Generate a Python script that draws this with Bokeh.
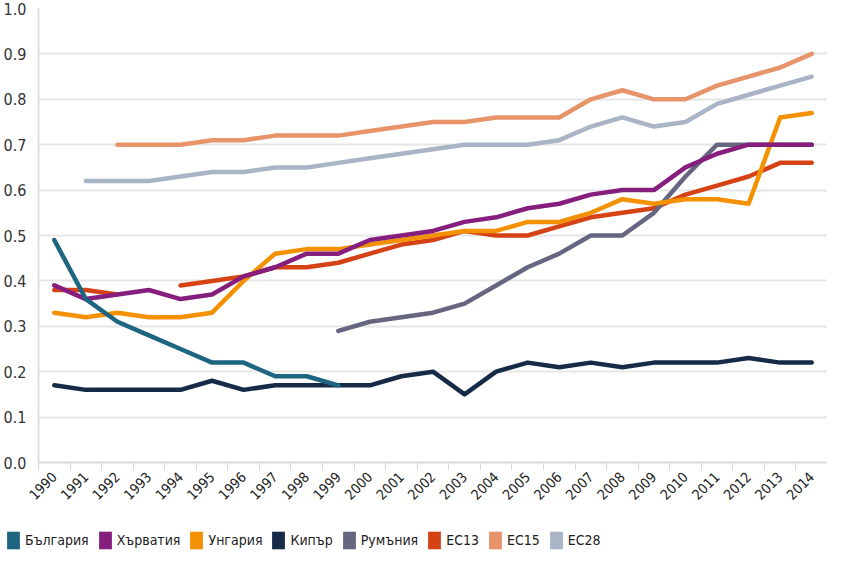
import numpy as np
from math import pi
from bokeh.plotting import figure
from bokeh.layouts import column
from bokeh.models import Range1d, FixedTicker, Legend, LegendItem
from bokeh.embed import file_html
from bokeh.resources import INLINE

years = list(range(1990, 2015))
year_labels = [str(y) for y in years]
y_ticks = [0.0, 0.1, 0.2, 0.3, 0.4, 0.5, 0.6, 0.7, 0.8, 0.9, 1.0]
y_tick_labels = ["0.0", "0.1", "0.2", "0.3", "0.4", "0.5", "0.6", "0.7", "0.8", "0.9", "1.0"]

bulgaria = [0.49, 0.36, 0.31, 0.28, 0.25, 0.22, 0.22, 0.19, 0.19, 0.17,
            None, None, None, None, None, None, None, None, None, None,
            None, None, None, None, None]
croatia = [0.39, 0.36, 0.37, 0.38, 0.36, 0.37, 0.41, 0.43, 0.46, 0.46,
           0.49, 0.50, 0.51, 0.53, 0.54, 0.56, 0.57, 0.59, 0.60, 0.60,
           0.65, 0.68, 0.70, 0.70, 0.70]
hungary = [0.33, 0.32, 0.33, 0.32, 0.32, 0.33, 0.40, 0.46, 0.47, 0.47,
           0.48, 0.49, 0.50, 0.51, 0.51, 0.53, 0.53, 0.55, 0.58, 0.57,
           0.58, 0.58, 0.57, 0.76, 0.77]
cyprus = [0.17, 0.16, 0.16, 0.16, 0.16, 0.18, 0.16, 0.17, 0.17, 0.17,
          0.17, 0.19, 0.20, 0.15, 0.20, 0.22, 0.21, 0.22, 0.21, 0.22,
          0.22, 0.22, 0.23, 0.22, 0.22]
romania = [None, None, None, None, None, None, None, None, None, 0.29,
           0.31, 0.32, 0.33, 0.35, 0.39, 0.43, 0.46, 0.50, 0.50, 0.55,
           0.63, 0.70, 0.70, 0.70, 0.70]
eu13 = [0.38, 0.38, 0.37, None, 0.39, 0.40, 0.41, 0.43, 0.43, 0.44,
        0.46, 0.48, 0.49, 0.51, 0.50, 0.50, 0.52, 0.54, 0.55, 0.56,
        0.59, 0.61, 0.63, 0.66, 0.66]
eu15 = [None, None, 0.70, 0.70, 0.70, 0.71, 0.71, 0.72, 0.72, 0.72,
        0.73, 0.74, 0.75, 0.75, 0.76, 0.76, 0.76, 0.80, 0.82, 0.80,
        0.80, 0.83, 0.85, 0.87, 0.90]
eu28 = [None, 0.62, 0.62, 0.62, 0.63, 0.64, 0.64, 0.65, 0.65, 0.66,
        0.67, 0.68, 0.69, 0.70, 0.70, 0.70, 0.71, 0.74, 0.76, 0.74,
        0.75, 0.79, 0.81, 0.83, 0.85]

series_names = ["България", "Хърватия", "Унгария", "Кипър", "Румъния", "ЕС13", "ЕС15", "ЕС28"]
series_values = [bulgaria, croatia, hungary, cyprus, romania, eu13, eu15, eu28]
series_colors = ["#1d6580", "#861e7e", "#f39100", "#172a48", "#666680", "#d54216", "#e8946a", "#a9b4c7"]

FONT = "DejaVu Sans Condensed"
TOTAL_H = 551
LEG_H = 22
P_H = TOTAL_H - LEG_H

p = figure(width=827, height=P_H, output_backend="svg", toolbar_location=None,
           x_range=Range1d(years[0] - 0.5, years[-1] + 0.5),
           y_range=Range1d(0.0, 1.0),
           min_border_left=31, min_border_right=0, min_border_top=8,
           min_border_bottom=P_H - 462)
p.outline_line_color = None
p.background_fill_color = "white"

# lines (drawn in reverse legend order)
for name, vals, col in reversed(list(zip(series_names, series_values, series_colors))):
    arr = np.array([np.nan if v is None else v for v in vals], dtype=float)
    p.line(years, arr, line_color=col, line_width=4.5, line_cap="round", line_join="round")

# grid
p.xgrid.grid_line_color = None
p.ygrid.ticker = FixedTicker(ticks=y_ticks)
p.ygrid.grid_line_color = "#e6e6e6"
p.ygrid.grid_line_width = 2

# y axis
p.yaxis.ticker = FixedTicker(ticks=y_ticks)
p.yaxis.major_label_overrides = {t: lab for t, lab in zip(y_ticks, y_tick_labels)}
p.yaxis.axis_line_color = "#e0e0e0"
p.yaxis.axis_line_width = 2
p.yaxis.major_tick_line_color = None
p.yaxis.minor_tick_line_color = None
p.yaxis.major_label_standoff = 6
p.yaxis.major_label_text_font = FONT
p.yaxis.major_label_text_font_size = "16px"
p.yaxis.major_label_text_color = "#333333"

# x axis
boundaries = [y - 0.5 for y in years] + [years[-1] + 0.5]
p.xaxis.ticker = FixedTicker(ticks=years, minor_ticks=boundaries)
p.xaxis.major_label_overrides = {y: lab for y, lab in zip(years, year_labels)}
p.xaxis.axis_line_color = "#d9d9d9"
p.xaxis.axis_line_width = 2
p.xaxis.major_tick_line_color = None
p.xaxis.minor_tick_line_color = "#d9d9d9"
p.xaxis.minor_tick_line_width = 1
p.xaxis.minor_tick_in = 0
p.xaxis.minor_tick_out = 8
p.xaxis.major_label_orientation = pi / 4
p.xaxis.major_label_standoff = 4
p.xaxis.major_label_text_font = FONT
p.xaxis.major_label_text_font_size = "14px"
p.xaxis.major_label_text_color = "#222222"

# legend figure
leg = figure(width=827, height=LEG_H, output_backend="svg", toolbar_location=None,
             x_range=Range1d(0, 1), y_range=Range1d(0, 1),
             x_axis_location=None, y_axis_location=None,
             min_border_left=0, min_border_right=0, min_border_top=0, min_border_bottom=0)
leg.outline_line_color = None
leg.xgrid.grid_line_color = None
leg.ygrid.grid_line_color = None

legend_x = 0
try:
    leg.frame_align = False
    legend_x = 5
except (AttributeError, ValueError):
    legend_x = 0

items = []
for name, col in zip(series_names, series_colors):
    r = leg.quad(left=[np.nan], right=[np.nan], top=[np.nan], bottom=[np.nan],
                 fill_color=col, line_color=None)
    items.append(LegendItem(label=name, renderers=[r]))

legend = Legend(items=items, location=(legend_x, 0), orientation="horizontal",
                glyph_width=16, glyph_height=LEG_H, label_height=LEG_H, label_standoff=4, spacing=8,
                padding=0, margin=0, border_line_color=None, background_fill_alpha=0,
                label_text_font=FONT, label_text_font_size="14px", label_text_color="#222222")
leg.add_layout(legend, "center")

layout = column(p, leg, spacing=0)
open("out.html", "w").write(file_html(layout, INLINE))
